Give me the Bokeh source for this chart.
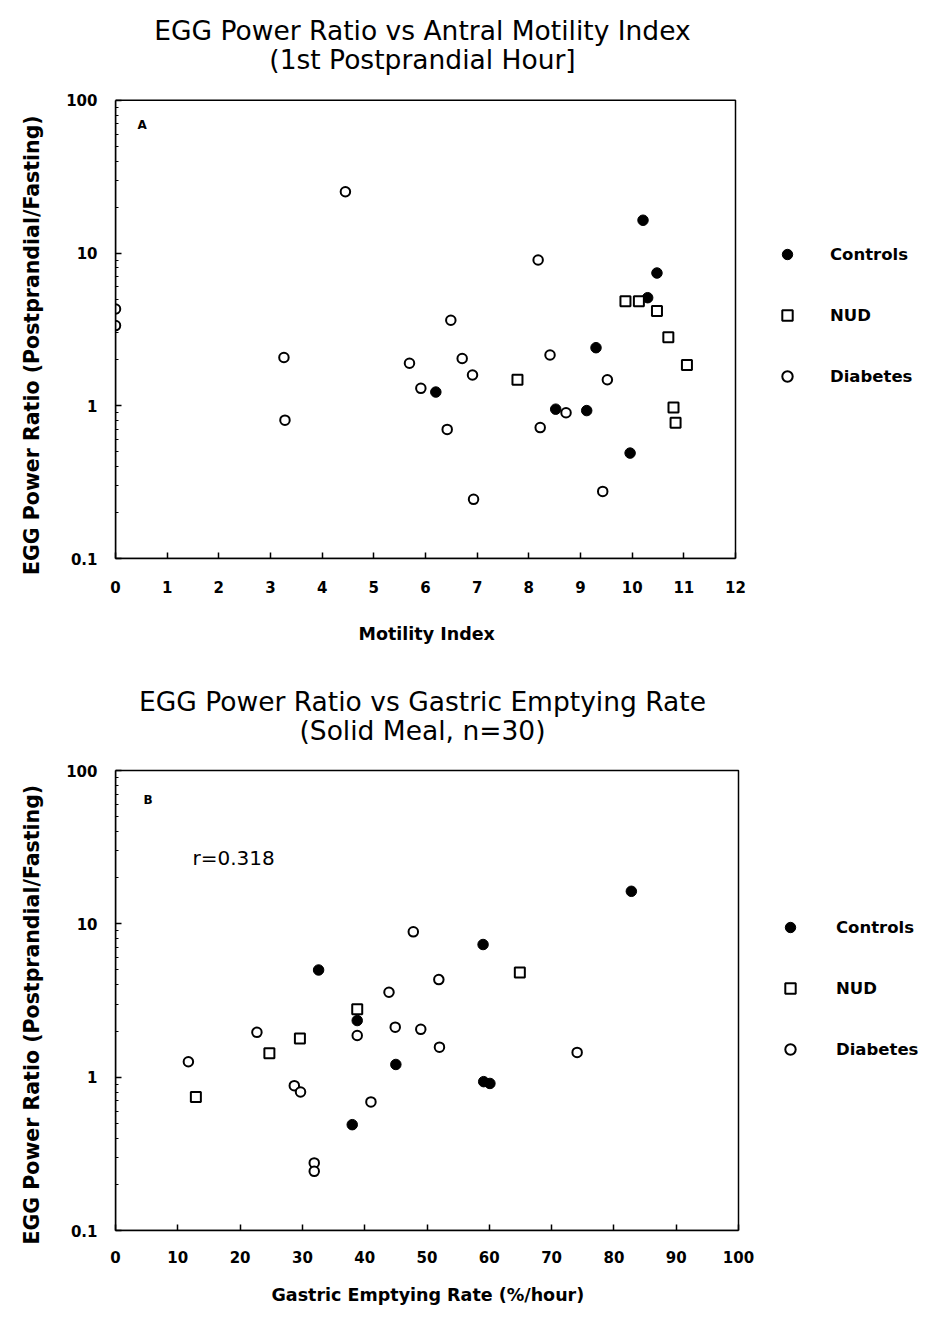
from bokeh.plotting import figure
from bokeh.models import (Label, Legend, LegendItem, FixedTicker,
                          CustomJSTickFormatter, BoxAnnotation, Title)
from bokeh.layouts import column
from bokeh.embed import file_html
from bokeh.resources import INLINE

# ---------------- data ----------------
# Panel A: Motility Index vs EGG power ratio
ctrl_a_x = [10.21, 10.48, 10.30, 9.30, 6.20, 8.52, 9.12, 9.96]
ctrl_a_y = [16.4, 7.4, 5.1, 2.40, 1.23, 0.95, 0.93, 0.49]
nud_a_x = [9.87, 10.13, 10.48, 10.70, 11.06, 7.78, 10.80, 10.84]
nud_a_y = [4.83, 4.83, 4.18, 2.81, 1.85, 1.48, 0.975, 0.774]
dia_a_x = [4.45, 0.0, 0.0, 3.26, 3.28, 5.69, 5.91, 8.18, 6.49, 8.41, 6.71,
           6.91, 9.52, 8.72, 6.42, 8.22, 9.43, 6.93]
dia_a_y = [25.2, 4.3, 3.35, 2.07, 0.805, 1.90, 1.30, 9.0, 3.63, 2.15, 2.04,
           1.59, 1.48, 0.90, 0.70, 0.72, 0.275, 0.244]

# Panel B: Gastric emptying rate vs EGG power ratio
ctrl_b_x = [82.8, 59.0, 32.6, 38.8, 45.0, 59.1, 60.1, 38.0]
ctrl_b_y = [16.3, 7.33, 5.0, 2.34, 1.21, 0.935, 0.91, 0.49]
nud_b_x = [64.9, 38.8, 29.6, 24.7, 12.9]
nud_b_y = [4.81, 2.77, 1.79, 1.43, 0.743]
dia_b_x = [47.8, 51.9, 43.9, 44.9, 49.0, 22.7, 38.8, 52.0, 74.1, 11.7, 28.7,
           29.7, 41.0, 31.9, 31.9]
dia_b_y = [8.87, 4.33, 3.58, 2.12, 2.05, 1.96, 1.87, 1.57, 1.45, 1.26, 0.88,
           0.80, 0.69, 0.276, 0.243]

series_names = ["Controls", "NUD", "Diabetes"]
y_ticks = [0.1, 1, 10, 100]
y_minor = [m * d for d in (0.1, 1, 10) for m in range(2, 10)]
x_ticks_a = list(range(0, 13))
x_ticks_b = list(range(0, 101, 10))

title_a = ["EGG Power Ratio vs Antral Motility Index", "(1st Postprandial Hour]"]
title_b = ["EGG Power Ratio vs Gastric Emptying Rate", "(Solid Meal, n=30)"]
y_label = "EGG Power Ratio (Postprandial/Fasting)"
x_label_a = "Motility Index"
x_label_b = "Gastric Emptying Rate (%/hour)"
r_text = "r=0.318"

FONT = "DejaVu Sans"
W = 926
LEFT = 115          # frame / y-axis left edge (px)


def make_panel(height, bottom, box_w, box_top, box_h, xmax, xticks, xlabel,
               x_std, xl_std, xl_off, yl_off, cx, cy, nx, ny, dx, dy,
               titles, title_ys, letter, letter_pos, legend_pos, legend_standoff):
    """The frame covers the whole canvas except the axis borders, so that the
    titles and the legend (drawn as annotations) are not clipped. The visible
    plot box (0..xmax, 0.1..100) occupies box_w x box_h pixels."""
    frame_w = W - LEFT
    x_end = xmax * frame_w / box_w
    decade = box_h / 3.0
    y_end = 10 ** (2 + box_top / decade)

    p = figure(width=W, height=height, x_range=(0, x_end), y_range=(0.1, y_end),
               y_axis_type="log", output_backend="svg", toolbar_location=None,
               title=None, min_border_left=LEFT, min_border_right=0,
               min_border_top=0, min_border_bottom=bottom)
    p.xgrid.visible = False
    p.ygrid.visible = False
    p.outline_line_color = None
    p.background_fill_color = "white"
    p.border_fill_color = "white"

    # visible plot box
    p.add_layout(BoxAnnotation(left=0, right=xmax, bottom=0.1, top=100,
                               fill_alpha=0, line_color="black", line_alpha=1.0,
                               line_width=1.5))

    # axes
    p.yaxis.ticker = FixedTicker(ticks=y_ticks, minor_ticks=y_minor)
    p.yaxis.formatter = CustomJSTickFormatter(code="return String(tick);")
    p.yaxis.bounds = (0.1, 100)
    p.xaxis.ticker = FixedTicker(ticks=xticks, minor_ticks=[])
    p.xaxis.formatter = CustomJSTickFormatter(code="return String(tick);")
    p.xaxis.bounds = (0, xmax)
    for ax in (p.xaxis[0], p.yaxis[0]):
        ax.axis_line_width = 1.5
        ax.axis_line_color = "black"
        ax.major_tick_line_color = "black"
        ax.major_tick_line_width = 1.5
        ax.major_tick_out = 0
        ax.major_tick_in = 6
        ax.minor_tick_out = 0
        ax.minor_tick_in = 3
        ax.minor_tick_line_color = "black"
        ax.minor_tick_line_width = 1.2
        ax.major_label_text_font = FONT
        ax.major_label_text_font_style = "bold"
        ax.major_label_text_font_size = "15px"
        ax.major_label_text_color = "black"
    p.yaxis.major_label_standoff = 18
    p.xaxis.major_label_standoff = x_std

    # axis labels as side-panel titles (left-aligned + pixel offset)
    p.add_layout(Title(text=xlabel, align="left", offset=xl_off,
                       vertical_align="bottom", standoff=xl_std,
                       text_font=FONT, text_font_style="bold",
                       text_font_size="17.5px", text_color="black"), "below")
    p.add_layout(Title(text=y_label, align="left", offset=yl_off,
                       vertical_align="top", standoff=36,
                       text_font=FONT, text_font_style="bold",
                       text_font_size="20.5px", text_color="black"), "left")

    # data
    r_c = p.scatter(cx, cy, marker="circle", size=10.5, fill_color="black",
                    line_color="black", line_width=1)
    r_n = p.scatter(nx, ny, marker="square", size=10, fill_color="white",
                    line_color="black", line_width=2)
    r_d = p.scatter(dx, dy, marker="circle", size=9.5, fill_color="white",
                    line_color="black", line_width=2)

    # titles (screen units relative to the frame's bottom-left corner)
    for txt, yy in zip(titles, title_ys):
        p.add_layout(Label(x=422 - LEFT, y=yy, x_units="screen", y_units="screen",
                           text=txt, text_align="center", text_baseline="alphabetic",
                           text_font=FONT, text_font_size="26.5px", text_color="black"))

    p.add_layout(Label(x=letter_pos[0], y=letter_pos[1], x_units="screen",
                       y_units="screen", text=letter, text_align="left",
                       text_baseline="alphabetic", text_font=FONT,
                       text_font_style="bold", text_font_size="12px",
                       text_color="black"))

    legend = Legend(items=[LegendItem(label=series_names[0], renderers=[r_c]),
                           LegendItem(label=series_names[1], renderers=[r_n]),
                           LegendItem(label=series_names[2], renderers=[r_d])],
                    location=legend_pos, orientation="vertical",
                    glyph_width=26, glyph_height=26, label_height=26,
                    spacing=35, padding=0, margin=0,
                    label_standoff=legend_standoff,
                    border_line_color=None, background_fill_alpha=0,
                    label_text_font=FONT, label_text_font_style="bold",
                    label_text_font_size="16.5px", label_text_color="black")
    p.add_layout(legend, "center")
    return p


# panel A: canvas rows 0..669, plot box 620 x 459 starting 100 px from the top
p1 = make_panel(669, 110, 620, 100, 459, 12, x_ticks_a, x_label_a, 22, 52,
                243, -16.5,
                ctrl_a_x, ctrl_a_y, nud_a_x, nud_a_y, dia_a_x, dia_a_y,
                title_a, [528, 499], "A", (22, 434), (659, 169), 30)

# panel B: canvas rows 669..1323, plot box 623 x 460 starting 101 px from the top
p2 = make_panel(654, 93, 623, 101, 460, 100, x_ticks_b, x_label_b, 20, 35,
                156, -14,
                ctrl_b_x, ctrl_b_y, nud_b_x, nud_b_y, dia_b_x, dia_b_y,
                title_b, [529, 500], "B", (28, 431), (662, 168), 33)

p2.add_layout(Label(x=77, y=373, x_units="screen", y_units="screen",
                    text=r_text, text_align="left", text_baseline="alphabetic",
                    text_font=FONT, text_font_size="20px", text_color="black"))

layout = column(p1, p2, spacing=0)

open("out.html", "w").write(file_html(layout, INLINE))
